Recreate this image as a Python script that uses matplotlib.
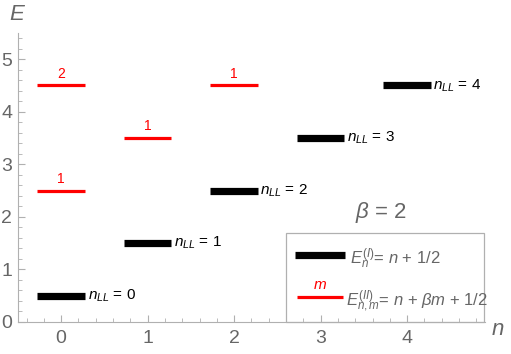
import matplotlib.pyplot as plt
from matplotlib.patches import Rectangle

# Landau levels E = n + 1/2 (black) and extra levels E = n + beta*m + 1/2 (red)
beta = 2
n_black = [0, 1, 2, 3, 4]
E_black = [0.5, 1.5, 2.5, 3.5, 4.5]
n_red = [0, 0, 1, 2]
m_red = [1, 2, 1, 1]
E_red = [2.5, 4.5, 3.5, 4.5]

half_w = 0.275
gray = "#666666"
axis_gray = "#b0b0b0"

plt.rcParams["font.family"] = ["Liberation Sans", "DejaVu Sans"]
plt.rcParams["mathtext.fontset"] = "custom"
plt.rcParams["mathtext.rm"] = "Liberation Sans"
plt.rcParams["mathtext.it"] = "Liberation Sans:italic"
plt.rcParams["mathtext.bf"] = "Liberation Sans:bold"

fig = plt.figure(figsize=(5.11, 3.54), dpi=100)
ax = fig.add_axes([0.035, 0.0904, 0.914, 0.8166])

# black levels with n_LL labels
for n, E in zip(n_black, E_black):
    ax.plot([n - half_w, n + half_w], [E, E], color="black", lw=5.2, solid_capstyle="butt")
    ax.text(n + half_w + 0.03, E, rf"$n_{{LL}}$ = {n}", fontsize=11, va="center", ha="left")

# red levels with m labels
for n, m, E in zip(n_red, m_red, E_red):
    ax.plot([n - half_w, n + half_w], [E, E], color="red", lw=2.3, solid_capstyle="butt")
    ax.text(n, E + 0.09, str(m), color="red", fontsize=10, ha="center", va="bottom")

ax.text(3.7, 2.08, r"$\beta$ = 2", fontsize=16, color=gray, ha="center", va="center")

# hand-made legend box
ax.add_patch(Rectangle((0.574, 0.0), 0.424, 0.308, transform=ax.transAxes,
                       fill=False, edgecolor=axis_gray, lw=0.9, clip_on=False))
ax.plot([0.593, 0.700], [0.232, 0.232], transform=ax.transAxes, color="black",
        lw=5.2, solid_capstyle="butt", clip_on=False)
ax.text(0.712, 0.22, r"$E^{(I)}_{n}$= $n$ + $1/2$", transform=ax.transAxes,
        fontsize=12, color=gray, va="center", ha="left")
ax.plot([0.597, 0.696], [0.0865, 0.0865], transform=ax.transAxes, color="red",
        lw=2.3, solid_capstyle="butt", clip_on=False)
ax.text(0.646, 0.105, r"$m$", transform=ax.transAxes, fontsize=11, color="red",
        ha="center", va="bottom")
ax.text(0.703, 0.072, r"$E^{(II)}_{n,m}$= $n$ + $\beta m$ + $1/2$", transform=ax.transAxes,
        fontsize=12, color=gray, va="center", ha="left")

# axes styling
ax.set_xlim(-0.5, 4.9)
ax.set_ylim(0, 5.5)
for side in ["top", "right"]:
    ax.spines[side].set_visible(False)
for side in ["left", "bottom"]:
    ax.spines[side].set_color(axis_gray)
ax.set_xticks([0, 1, 2, 3, 4])
ax.set_yticks([0, 1, 2, 3, 4, 5])
ax.set_xticks([i * 0.2 for i in range(-2, 25)], minor=True)
ax.set_yticks([i * 0.2 for i in range(0, 28)], minor=True)
ax.tick_params(which="both", direction="in", color=axis_gray, labelcolor=gray, labelsize=14)
ax.tick_params(which="major", length=5)
ax.tick_params(which="minor", length=3)
ax.tick_params(axis="y", pad=4)
ax.tick_params(axis="x", pad=6)

fig.text(0.032, 0.96, "E", fontsize=16, style="italic", color=gray, ha="center", va="center")
fig.text(0.975, 0.068, "n", fontsize=16, style="italic", color=gray, ha="center", va="center")

fig.savefig("out.png", dpi=100)
